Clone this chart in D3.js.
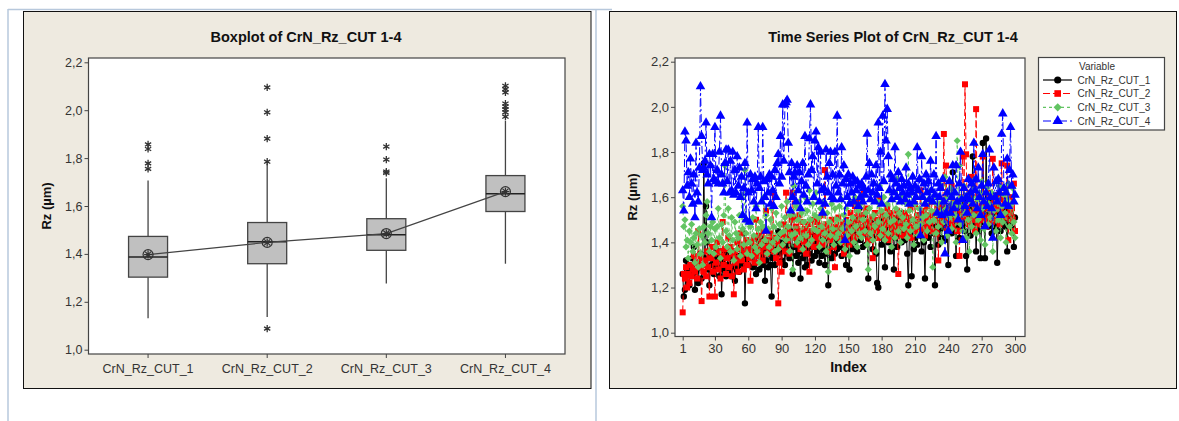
<!DOCTYPE html>
<html>
<head>
<meta charset="utf-8">
<script src="https://cdn.jsdelivr.net/npm/d3@7"></script>
<style>
  html, body { margin: 0; padding: 0; background: #ffffff; }
  svg { display: block; font-family: "Liberation Sans", Arial, sans-serif; }
</style>
</head>
<body>
<svg id="chart" width="1179" height="421"></svg>
<script>
// ---- Boxplot summaries (Rz, µm) ----
const categories = ["CrN_Rz_CUT_1", "CrN_Rz_CUT_2", "CrN_Rz_CUT_3", "CrN_Rz_CUT_4"];
const q1 = [1.303, 1.359, 1.415, 1.577];
const median = [1.387, 1.451, 1.480, 1.651];
const q3 = [1.473, 1.531, 1.547, 1.727];
const whiskerLow = [1.131, 1.137, 1.276, 1.359];
const whiskerHigh = [1.706, 1.777, 1.716, 1.956];
const means = [1.397, 1.448, 1.485, 1.660];
const outliers1 = [1.857, 1.838, 1.778, 1.755];
const outliers2 = [2.095, 1.991, 1.881, 1.785, 1.088];
const outliers3 = [1.848, 1.794, 1.744, 1.738];
const outliers4 = [2.102, 2.088, 2.074, 2.028, 2.015, 2.003, 1.991, 1.973];
const outliers = [outliers1, outliers2, outliers3, outliers4];

// ---- Time series (index 1..300) ----
const cut1 = [
  1.26,1.16,1.19,1.32,1.28,1.22,1.21,1.30,1.25,1.33,1.38,1.19,1.27,1.31,1.22,1.29,1.35,1.24,1.30,1.75,
  1.33,1.56,1.40,1.28,1.21,1.35,1.30,1.34,1.26,1.31,1.37,1.29,1.33,1.25,1.36,1.17,1.32,1.28,1.35,1.25,
  1.30,1.38,1.27,1.33,1.25,1.29,1.36,1.23,1.31,1.28,1.34,1.27,1.38,1.30,1.35,1.44,1.13,1.32,1.34,1.30,
  1.33,1.40,1.36,1.29,1.38,1.31,1.26,1.35,1.41,1.28,1.42,1.34,1.30,1.37,1.23,1.32,1.39,1.29,1.35,1.30,
  1.16,1.33,1.41,1.30,1.38,1.42,1.45,1.35,1.40,1.32,1.44,1.37,1.30,1.42,1.35,1.39,1.33,1.45,1.52,1.26,
  1.38,1.42,1.34,1.40,1.31,1.36,1.24,1.39,1.33,1.42,1.29,1.37,1.30,1.41,1.35,1.44,1.32,1.38,1.43,1.34,
  1.40,1.36,1.43,1.31,1.38,1.34,1.41,1.37,1.30,1.35,1.42,1.21,1.36,1.44,1.33,1.39,1.45,1.35,1.40,1.37,
  1.43,1.38,1.46,1.34,1.41,1.47,1.36,1.30,1.44,1.39,1.28,1.42,1.48,1.37,1.45,1.40,1.50,1.36,1.43,1.55,
  1.41,1.46,1.38,1.52,1.44,1.39,1.47,1.24,1.45,1.41,1.50,1.37,1.46,1.42,1.35,1.22,1.20,1.44,1.48,1.39,
  1.45,1.50,1.29,1.43,1.47,1.40,1.52,1.36,1.44,1.49,1.28,1.42,1.46,1.38,1.51,1.43,1.47,1.40,1.53,1.45,
  1.41,1.48,1.35,1.21,1.44,1.50,1.25,1.46,1.37,1.42,1.49,1.39,1.45,1.52,1.43,1.36,1.47,1.40,1.24,1.46,
  1.51,1.42,1.48,1.38,1.45,1.53,1.44,1.21,1.47,1.44,1.39,1.50,1.46,1.42,1.55,1.48,1.41,1.52,1.45,1.30,
  1.49,1.56,1.44,1.71,1.51,1.46,1.34,1.53,1.48,1.42,1.55,1.50,1.47,1.58,1.45,1.34,1.28,1.52,1.49,1.43,
  1.56,1.78,1.47,1.54,1.36,1.50,1.45,1.53,1.33,1.49,1.84,1.55,1.33,1.86,1.52,1.47,1.58,1.51,1.44,1.55,
  1.50,1.46,1.53,1.31,1.48,1.56,1.45,1.52,1.49,1.54,1.47,1.51,1.36,1.55,1.48,1.53,1.50,1.46,1.38,1.51
];
const cut2 = [
  1.09,1.26,1.24,1.29,1.20,1.26,1.22,1.30,1.25,1.28,1.34,1.27,1.31,1.24,1.45,1.29,1.33,1.14,1.30,1.27,
  1.32,1.25,1.36,1.29,1.16,1.33,1.38,1.27,1.35,1.16,1.31,1.40,1.28,1.36,1.24,1.34,1.49,1.30,1.37,1.26,
  1.33,1.42,1.29,1.38,1.25,1.35,1.17,1.36,1.31,1.40,1.27,1.37,1.44,1.32,1.39,1.28,1.35,1.41,1.30,1.37,
  1.33,1.23,1.40,1.35,1.42,1.31,1.50,1.38,1.34,1.43,1.36,1.40,1.32,1.45,1.38,1.54,1.35,1.41,1.37,1.44,
  1.39,1.62,1.36,1.42,1.33,1.40,1.13,1.31,1.38,1.27,1.43,1.48,1.36,1.62,1.41,1.46,1.35,1.44,1.50,1.62,
  1.51,1.42,1.47,1.39,1.45,1.52,1.37,1.44,1.49,1.40,1.46,1.35,1.43,1.48,1.27,1.45,1.41,1.50,1.38,1.46,
  1.42,1.49,1.44,1.40,1.47,1.52,1.39,1.45,1.72,1.43,1.48,1.36,1.46,1.41,1.50,1.44,1.38,1.29,1.47,1.44,
  1.51,1.42,1.46,1.40,1.48,1.35,1.45,1.50,1.41,1.47,1.39,1.53,1.44,1.49,1.42,1.56,1.46,1.59,1.43,1.50,
  1.45,1.52,1.47,1.62,1.44,1.49,1.55,1.41,1.48,1.46,1.51,1.33,1.47,1.53,1.45,1.50,1.42,1.59,1.48,1.44,
  1.52,1.46,1.50,1.43,1.55,1.48,1.41,1.53,1.47,1.51,1.44,1.49,1.45,1.54,1.26,1.47,1.52,1.43,1.50,1.46,
  1.53,1.48,1.44,1.51,1.47,1.55,1.42,1.50,1.46,1.57,1.49,1.45,1.52,1.48,1.63,1.51,1.46,1.54,1.43,1.50,
  1.56,1.47,1.52,1.49,1.58,1.45,1.53,1.50,1.44,1.55,1.32,1.51,1.48,1.57,1.53,1.88,1.50,1.74,1.46,1.55,
  1.52,1.49,1.65,1.47,1.54,1.58,1.50,1.45,1.56,1.34,1.53,1.60,1.78,1.51,2.10,1.79,1.55,1.48,1.62,1.53,
  1.69,1.50,1.57,1.45,1.99,1.54,1.48,1.60,1.52,1.56,1.78,1.50,1.58,1.47,1.55,1.62,1.51,1.57,1.49,1.77,
  1.54,1.58,1.50,1.56,1.61,1.48,1.55,1.75,1.52,1.59,1.51,1.57,1.74,1.41,1.56,1.53,1.60,1.50,1.66,1.45
];
const cut3 = [
  1.56,1.47,1.50,1.38,1.41,1.33,1.45,1.40,1.48,1.36,1.42,1.31,1.44,1.39,1.29,1.46,1.35,1.43,1.30,1.47,
  1.40,1.52,1.58,1.44,1.36,1.47,1.41,1.49,1.35,1.46,1.38,1.47,1.55,1.42,1.33,1.48,1.40,1.52,1.74,1.45,
  1.38,1.55,1.43,1.36,1.51,1.41,1.32,1.49,1.44,1.37,1.42,1.52,1.34,1.61,1.46,1.39,1.72,1.44,1.35,1.49,
  1.40,1.47,1.34,1.51,1.43,1.38,1.56,1.36,1.46,1.31,1.49,1.39,1.47,1.60,1.41,1.52,1.35,1.46,1.38,1.50,
  1.55,1.40,1.47,1.36,1.53,1.42,1.37,1.48,1.44,1.56,1.39,1.45,1.51,1.41,1.58,1.47,1.36,1.52,1.43,1.28,
  1.65,1.44,1.56,1.40,1.50,1.58,1.42,1.53,1.37,1.49,1.60,1.43,1.54,1.39,1.63,1.50,1.41,1.57,1.46,1.52,
  1.62,1.45,1.51,1.38,1.55,1.47,1.41,1.58,1.44,1.36,1.53,1.27,1.49,1.43,1.57,1.46,1.39,1.55,1.42,1.50,
  1.44,1.56,1.40,1.59,1.46,1.52,1.37,1.55,1.43,1.49,1.34,1.58,1.45,1.51,1.40,1.60,1.47,1.38,1.54,1.44,
  1.57,1.42,1.50,1.61,1.45,1.53,1.39,1.28,1.55,1.44,1.62,1.41,1.52,1.47,1.36,1.58,1.49,1.65,1.43,1.54,
  1.46,1.60,1.41,1.52,1.57,1.44,1.63,1.49,1.38,1.59,1.50,1.42,1.55,1.68,1.45,1.53,1.40,1.61,1.51,1.46,
  1.58,1.48,1.42,1.79,1.54,1.45,1.62,1.50,1.39,1.57,1.47,1.64,1.43,1.55,1.48,1.60,1.51,1.41,1.66,1.52,
  1.45,1.59,1.49,1.63,1.54,1.29,1.50,1.61,1.44,1.57,1.47,1.66,1.53,1.40,1.58,1.49,1.69,1.55,1.43,1.60,
  1.51,1.64,1.46,1.57,1.62,1.52,1.40,1.85,1.56,1.74,1.48,1.60,1.45,1.65,1.53,1.42,1.61,1.50,1.36,1.58,
  1.47,1.63,1.52,1.68,1.44,1.59,1.50,1.62,1.41,1.67,1.55,1.46,1.39,1.58,1.64,1.48,1.57,1.51,1.62,1.36,
  1.54,1.60,1.45,1.58,1.50,1.65,1.42,1.56,1.49,1.61,1.53,1.40,1.59,1.66,1.47,1.57,1.44,1.64,1.49,1.42
];
const cut4 = [
  1.63,1.54,1.89,1.85,1.65,1.71,1.60,1.77,1.66,1.57,1.70,1.51,1.84,1.62,1.58,1.73,2.09,1.87,1.72,1.73,
  1.76,1.93,1.70,1.66,1.79,1.74,1.51,1.79,1.68,1.91,1.67,1.72,1.66,1.80,1.96,1.70,1.66,1.62,1.75,1.81,
  1.67,1.81,1.62,1.76,1.63,1.80,1.61,1.72,1.62,1.78,1.65,1.73,1.60,1.69,1.52,1.64,1.75,1.50,1.93,1.62,
  1.49,1.70,1.63,1.68,1.58,1.69,1.55,1.66,1.91,1.64,1.69,1.58,1.91,1.67,1.60,1.45,1.68,1.62,1.70,1.57,
  1.69,1.63,1.56,1.72,1.60,1.75,1.79,1.66,1.87,1.69,2.01,1.76,2.01,2.02,2.03,1.84,1.71,1.54,1.75,1.60,
  1.69,1.71,1.58,1.74,1.63,1.71,1.55,1.67,1.75,1.61,1.87,1.65,1.58,1.70,1.86,2.01,1.72,1.78,1.60,1.85,
  1.89,1.66,1.82,1.58,1.80,1.63,1.53,1.64,1.57,1.81,1.69,1.62,1.75,1.80,1.60,1.70,1.59,1.80,1.65,1.96,
  1.62,1.70,1.59,1.82,1.66,1.74,1.41,1.68,1.60,1.70,1.57,1.66,1.62,1.69,1.58,1.67,1.63,1.67,1.56,1.65,
  1.60,1.66,1.58,1.64,1.61,1.69,1.88,1.63,1.75,1.59,1.70,1.62,1.66,1.58,1.74,1.61,1.93,1.64,1.80,1.57,
  1.96,1.67,2.10,1.85,1.99,1.78,1.63,1.70,1.59,1.68,1.62,1.82,1.66,1.60,1.71,1.64,1.58,1.68,1.62,1.65,
  1.59,1.73,1.61,1.66,1.57,1.64,1.62,1.69,1.58,1.65,1.60,1.82,1.63,1.68,1.43,1.78,1.60,1.66,1.57,1.70,
  1.62,1.67,1.59,1.76,1.63,1.58,1.70,1.61,1.87,1.53,1.66,1.60,1.64,1.52,1.68,1.58,1.35,1.53,1.62,1.45,
  1.67,1.53,1.60,1.74,1.55,1.62,1.74,1.58,1.50,1.66,1.80,1.59,1.41,1.64,1.56,1.60,1.53,1.68,1.59,1.62,
  1.66,1.57,1.84,1.63,1.68,1.55,1.73,1.60,1.52,1.65,1.79,1.58,1.47,1.62,1.56,1.66,1.81,1.60,1.55,1.42,
  1.73,1.60,1.67,1.58,1.68,1.62,1.52,1.88,1.97,1.64,1.57,1.62,1.77,1.56,1.72,1.91,1.65,1.70,1.58,1.61
];

const yTicks = [1.0, 1.2, 1.4, 1.6, 1.8, 2.0, 2.2];
const indexTicks = [1, 30, 60, 90, 120, 150, 180, 210, 240, 270, 300];

const svg = d3.select("#chart");
const commaFmt = v => d3.format(".1f")(v).replace(".", ",");
const panelFill = "#eeeae0";
const ink = "#333333";

// page guide lines
svg.append("line").attr("x1", 8).attr("x2", 612).attr("y1", 9.5).attr("y2", 9.5)
  .attr("stroke", "#b7c8dc").attr("stroke-width", 1.5);
svg.append("line").attr("x1", 8).attr("x2", 8).attr("y1", 9).attr("y2", 421)
  .attr("stroke", "#b7c8dc").attr("stroke-width", 1.5);
svg.append("line").attr("x1", 596).attr("x2", 596).attr("y1", 9).attr("y2", 421)
  .attr("stroke", "#b7c8dc").attr("stroke-width", 1.5);

// ================= Left panel: boxplot =================
svg.append("rect").attr("x", 23.5).attr("y", 11.5).attr("width", 567.5).attr("height", 377)
  .attr("fill", panelFill).attr("stroke", "#111").attr("stroke-width", 1);
svg.append("rect").attr("x", 88.5).attr("y", 58).attr("width", 476.5).attr("height", 296)
  .attr("fill", "#fff").attr("stroke", "#444").attr("stroke-width", 1.2);

const bx = d3.scaleBand().domain(categories).range([88.5, 565]);
const by = d3.scaleLinear().domain([1.0, 2.2]).range([349.7, 62.3]);

svg.append("text").attr("x", 306).attr("y", 42).attr("text-anchor", "middle")
  .attr("font-weight", "bold").attr("font-size", 14.5).attr("fill", "#111")
  .text("Boxplot of CrN_Rz_CUT 1-4");

const bAxisL = svg.append("g").attr("transform", "translate(88.5,0)")
  .call(d3.axisLeft(by).tickValues(yTicks).tickFormat(commaFmt).tickSize(4).tickPadding(2));
const bAxisB = svg.append("g").attr("transform", "translate(0,354)")
  .call(d3.axisBottom(bx).tickSize(4).tickPadding(6));
[bAxisL, bAxisB].forEach(g => {
  g.select(".domain").remove();
  g.selectAll("line").attr("stroke", "#444");
  g.selectAll("text").attr("font-size", 12.5).attr("fill", ink)
    .attr("font-family", "'Liberation Sans', Arial, sans-serif");
});

svg.append("text").attr("transform", "translate(51,206) rotate(-90)")
  .attr("text-anchor", "middle").attr("font-weight", "bold").attr("font-size", 13)
  .attr("fill", "#111").text("Rz (µm)");

const boxW = 39;
const boxes = svg.append("g");
categories.forEach((c, i) => {
  const cx = bx(c) + bx.bandwidth() / 2;
  boxes.append("line").attr("x1", cx).attr("x2", cx)
    .attr("y1", by(whiskerLow[i])).attr("y2", by(q1[i]))
    .attr("stroke", "#444").attr("stroke-width", 1.3);
  boxes.append("line").attr("x1", cx).attr("x2", cx)
    .attr("y1", by(whiskerHigh[i])).attr("y2", by(q3[i]))
    .attr("stroke", "#444").attr("stroke-width", 1.3);
  boxes.append("rect").attr("x", cx - boxW / 2).attr("y", by(q3[i]))
    .attr("width", boxW).attr("height", by(q1[i]) - by(q3[i]))
    .attr("fill", "#c0c0c0").attr("stroke", "#444").attr("stroke-width", 1.3);
  boxes.append("line").attr("x1", cx - boxW / 2).attr("x2", cx + boxW / 2)
    .attr("y1", by(median[i])).attr("y2", by(median[i]))
    .attr("stroke", "#222").attr("stroke-width", 1.6);
  outliers[i].forEach(v => {
    const y = by(v), s = 3.6;
    boxes.append("path")
      .attr("d", `M${cx},${y - s}L${cx},${y + s}M${cx - s * 0.87},${y - s / 2}L${cx + s * 0.87},${y + s / 2}M${cx - s * 0.87},${y + s / 2}L${cx + s * 0.87},${y - s / 2}`)
      .attr("stroke", "#333").attr("stroke-width", 1.3).attr("fill", "none");
  });
});

// mean connect line and mean symbols
const meanLine = d3.line().x((d, i) => bx(categories[i]) + bx.bandwidth() / 2).y(d => by(d));
svg.append("path").datum(means).attr("d", meanLine)
  .attr("fill", "none").attr("stroke", "#444").attr("stroke-width", 1.2);
means.forEach((m, i) => {
  const cx = bx(categories[i]) + bx.bandwidth() / 2, cy = by(m);
  svg.append("circle").attr("cx", cx).attr("cy", cy).attr("r", 5)
    .attr("fill", "none").attr("stroke", "#333").attr("stroke-width", 1.2);
  svg.append("path")
    .attr("d", `M${cx - 4},${cy}L${cx + 4},${cy}M${cx},${cy - 4}L${cx},${cy + 4}M${cx - 3},${cy - 3}L${cx + 3},${cy + 3}M${cx - 3},${cy + 3}L${cx + 3},${cy - 3}`)
    .attr("stroke", "#333").attr("stroke-width", 1.2);
});

// ================= Right panel: time series =================
svg.append("rect").attr("x", 609.5).attr("y", 11.5).attr("width", 567).attr("height", 377)
  .attr("fill", panelFill).attr("stroke", "#111").attr("stroke-width", 1);
svg.append("rect").attr("x", 675).attr("y", 58).attr("width", 350).attr("height", 278.5)
  .attr("fill", "#fff").attr("stroke", "#444").attr("stroke-width", 1.2);

const tx = d3.scaleLinear().domain([1, 300]).range([682.7, 1015]);
const ty = d3.scaleLinear().domain([1.0, 2.2]).range([332.7, 61.7]);

svg.append("text").attr("x", 893).attr("y", 42).attr("text-anchor", "middle")
  .attr("font-weight", "bold").attr("font-size", 14.5).attr("fill", "#111")
  .text("Time Series Plot of CrN_Rz_CUT 1-4");

const tAxisL = svg.append("g").attr("transform", "translate(675,0)")
  .call(d3.axisLeft(ty).tickValues(yTicks).tickFormat(commaFmt).tickSize(4).tickPadding(2));
const tAxisB = svg.append("g").attr("transform", "translate(0,336.5)")
  .call(d3.axisBottom(tx).tickValues(indexTicks).tickFormat(d3.format("d")).tickSize(4).tickPadding(3));
[tAxisL, tAxisB].forEach(g => {
  g.select(".domain").remove();
  g.selectAll("line").attr("stroke", "#444");
  g.selectAll("text").attr("font-size", 13).attr("fill", ink)
    .attr("font-family", "'Liberation Sans', Arial, sans-serif");
});

svg.append("text").attr("x", 848.5).attr("y", 372).attr("text-anchor", "middle")
  .attr("font-weight", "bold").attr("font-size", 14).attr("fill", "#111").text("Index");
svg.append("text").attr("transform", "translate(637,197) rotate(-90)")
  .attr("text-anchor", "middle").attr("font-weight", "bold").attr("font-size", 13)
  .attr("fill", "#111").text("Rz (µm)");

// square-ish diamond marker
const symbolRhombus = {
  draw(ctx, size) {
    const r = Math.sqrt(size / 2);
    ctx.moveTo(0, -r); ctx.lineTo(r, 0); ctx.lineTo(0, r); ctx.lineTo(-r, 0); ctx.closePath();
  }
};

const seriesDefs = [
  { name: "CrN_Rz_CUT_1", data: cut1, color: "#000000", dash: null, symbol: d3.symbolCircle, size: 32 },
  { name: "CrN_Rz_CUT_2", data: cut2, color: "#ff0000", dash: "7,3", symbol: d3.symbolSquare, size: 36 },
  { name: "CrN_Rz_CUT_3", data: cut3, color: "#62c462", dash: "3,3", symbol: symbolRhombus, size: 26 },
  { name: "CrN_Rz_CUT_4", data: cut4, color: "#0000ff", dash: "8,3,2,3", symbol: d3.symbolTriangle, size: 40 }
];

const tsLine = d3.line().x((d, i) => tx(i + 1)).y(d => ty(d));
seriesDefs.forEach(s => {
  const g = svg.append("g");
  g.append("path").datum(s.data).attr("d", tsLine)
    .attr("fill", "none").attr("stroke", s.color).attr("stroke-width", 1)
    .attr("stroke-dasharray", s.dash);
  const sym = d3.symbol().type(s.symbol).size(s.size);
  g.selectAll("path.pt").data(s.data).join("path").attr("class", "pt")
    .attr("transform", (d, i) => `translate(${tx(i + 1)},${ty(d)})`)
    .attr("d", sym).attr("fill", s.color);
});

// legend
const lg = svg.append("g");
lg.append("rect").attr("x", 1038.5).attr("y", 57.5).attr("width", 126).attr("height", 72.5)
  .attr("fill", "#fff").attr("stroke", "#444").attr("stroke-width", 1.2);
lg.append("text").attr("x", 1097).attr("y", 69.5).attr("text-anchor", "middle")
  .attr("font-size", 10).attr("fill", ink).text("Variable");
const legY = [80, 93.5, 107.3, 121];
seriesDefs.forEach((s, i) => {
  const y = legY[i];
  lg.append("line").attr("x1", 1043).attr("x2", 1072).attr("y1", y).attr("y2", y)
    .attr("stroke", s.color).attr("stroke-width", 1.2).attr("stroke-dasharray", s.dash);
  lg.append("path").attr("transform", `translate(1057.7,${y})`)
    .attr("d", d3.symbol().type(s.symbol).size(s.size + 8)).attr("fill", s.color);
  lg.append("text").attr("x", 1077.5).attr("y", y + 3.5).attr("font-size", 10)
    .attr("fill", ink).text(s.name);
});
</script>
</body>
</html>
